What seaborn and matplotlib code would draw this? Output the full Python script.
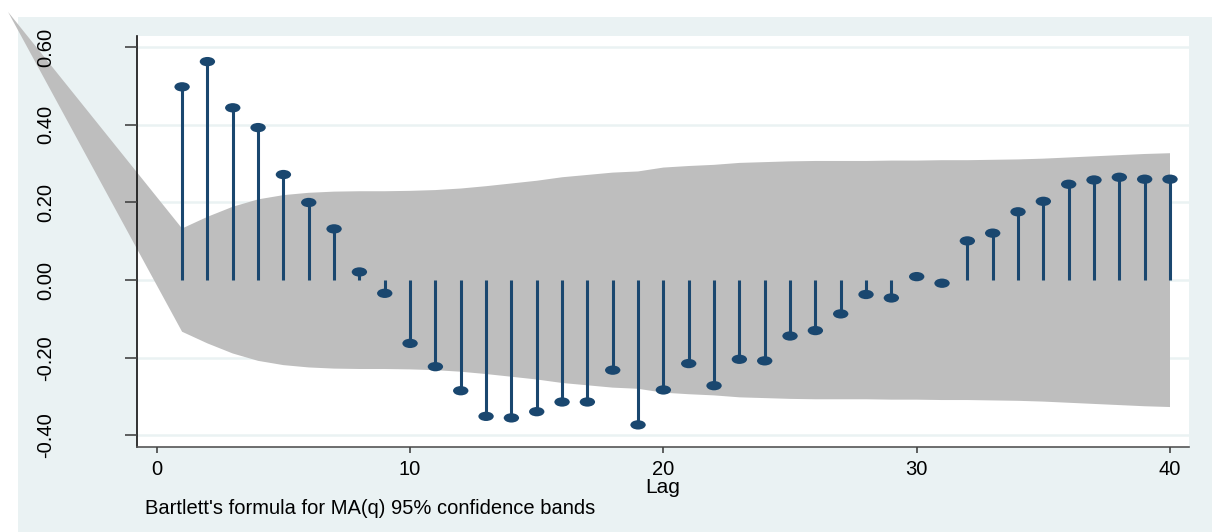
import numpy as np
import pandas as pd
import seaborn as sns
import matplotlib
matplotlib.use("Agg")
import matplotlib.pyplot as plt
from matplotlib.markers import MarkerStyle
from matplotlib.transforms import Affine2D
from matplotlib.patches import Rectangle

# ---- data ----
lags = list(range(1, 41))
acf = [0.498, 0.563, 0.444, 0.393, 0.272, 0.200, 0.132, 0.021, -0.034, -0.163,
       -0.223, -0.285, -0.351, -0.355, -0.339, -0.314, -0.314, -0.232, -0.373, -0.283,
       -0.215, -0.272, -0.204, -0.208, -0.144, -0.130, -0.087, -0.037, -0.046, 0.009,
       -0.008, 0.101, 0.121, 0.176, 0.203, 0.247, 0.258, 0.265, 0.260, 0.260]
band = [0.133, 0.163, 0.189, 0.208, 0.219, 0.225, 0.228, 0.229, 0.229, 0.230,
        0.232, 0.236, 0.242, 0.249, 0.256, 0.265, 0.271, 0.277, 0.280, 0.290,
        0.294, 0.297, 0.302, 0.304, 0.306, 0.307, 0.307, 0.307, 0.308, 0.308,
        0.309, 0.309, 0.310, 0.311, 0.313, 0.316, 0.319, 0.322, 0.325, 0.327]
band_tip = (-5.87, 0.691)
yticks = [-0.40, -0.20, 0.00, 0.20, 0.40, 0.60]
ytick_labels = ["-0.40", "-0.20", "0.00", "0.20", "0.40", "0.60"]
xticks = [0, 10, 20, 30, 40]
xlabel = "Lag"
note = "Bartlett's formula for MA(q) 95% confidence bands"

df = pd.DataFrame({"lag": lags, "acf": acf, "band": band})

# ---- style ----
sns.set_theme(style="white")
plt.rcParams["font.family"] = ["Liberation Sans", "DejaVu Sans"]
plt.rcParams["text.color"] = "black"

NAVY = "#1a476f"
BAND = "#bebebe"
BG = "#eaf2f3"

fig = plt.figure(figsize=(12.12, 5.32), dpi=100, facecolor="white")
fig.patches.append(Rectangle((18 / 1212, 0), 1 - 18 / 1212, 1 - 17 / 532,
                             transform=fig.transFigure, facecolor=BG,
                             edgecolor="none", zorder=-10))
ax = fig.add_axes([137 / 1212, 1 - 447 / 532, (1189 - 137) / 1212, (447 - 36) / 532])
ax.set_facecolor("white")
ax.set_axisbelow(False)

# grid lines under the band
for yv in yticks:
    ax.axhline(yv, color=BG, lw=1.8, zorder=0.5)

# confidence band (with the wedge running out to the upper left)
poly_x = [band_tip[0]] + lags + lags[::-1] + [band_tip[0]]
poly_y = [band_tip[1]] + band + [-b for b in band[::-1]] + [band_tip[1]]
ax.fill(poly_x, poly_y, color=BAND, lw=0, zorder=1, clip_on=False)

# stems and markers
ax.vlines(df["lag"], 0, df["acf"], color=NAVY, lw=2.2, zorder=3)
mk = MarkerStyle("o", transform=Affine2D().scale(1.65, 1.0))
sns.scatterplot(data=df, x="lag", y="acf", ax=ax, marker=mk, s=45,
                color=NAVY, edgecolor="none", linewidth=0, zorder=4)

ax.set_xlim(-0.78, 40.75)
ax.set_ylim(-0.430, 0.629)

ax.set_yticks(yticks)
ax.set_yticklabels(ytick_labels, rotation=90, va="center")
ax.set_xticks(xticks)
ax.grid(False)

for s in ["top", "right"]:
    ax.spines[s].set_visible(False)
ax.spines["left"].set_color("#111111")
ax.spines["bottom"].set_color("#555555")
ax.spines["left"].set_linewidth(1.2)
ax.spines["bottom"].set_linewidth(1.2)

ax.tick_params(axis="y", direction="out", length=8.6, width=1.2, color="#444444",
               pad=50, labelsize=14.5, left=True, labelcolor="black")
ax.tick_params(axis="x", direction="out", length=4.3, width=1.2, color="#444444",
               pad=5, labelsize=14.5, bottom=True, labelcolor="black")

ax.set_xlabel(xlabel, fontsize=15, color="black")
ax.xaxis.set_label_coords(0.5, -0.0754)
ax.set_ylabel("")

fig.text(145 / 1212, 1 - 514 / 532, note, fontsize=14.5, ha="left", va="baseline",
         color="black")

fig.savefig("out.png", dpi=100, facecolor="white")
